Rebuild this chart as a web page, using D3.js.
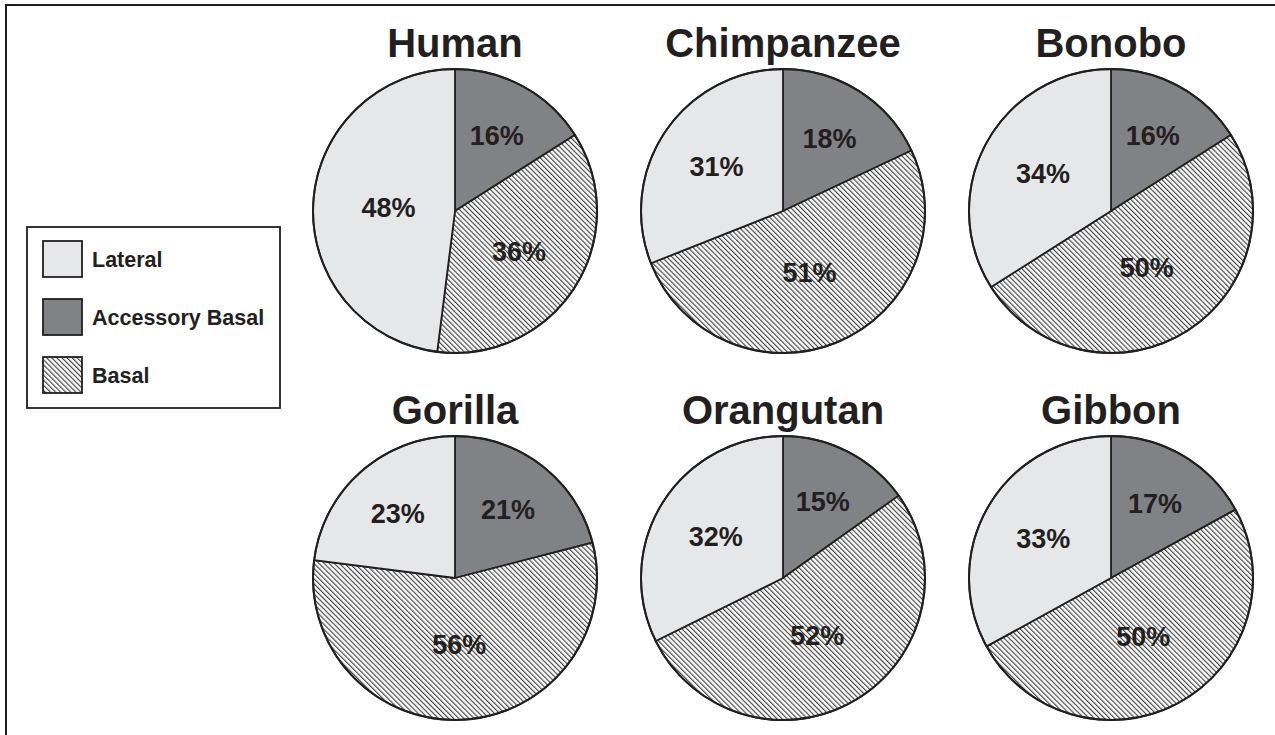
<!DOCTYPE html>
<html>
<head>
<meta charset="utf-8">
<script src="https://cdn.jsdelivr.net/npm/d3@7/dist/d3.min.js"></script>
<style>
  html, body { margin: 0; padding: 0; background: #fff; }
  svg { display: block; font-family: "Liberation Sans", Arial, Helvetica, sans-serif; }
</style>
</head>
<body>
<svg id="chart" width="1275" height="735"></svg>
<script>
// ---- data ----
const species = ["Human", "Chimpanzee", "Bonobo", "Gorilla", "Orangutan", "Gibbon"];
const categories = ["Lateral", "Accessory Basal", "Basal"];
const lateral = [48, 31, 34, 23, 32, 33];
const accessoryBasal = [16, 18, 16, 21, 15, 17];
const basal = [36, 51, 50, 56, 52, 50];

// ---- styling ----
const ink = "#231f20";
const fills = { "Lateral": "#e6e7e8", "Accessory Basal": "#808285", "Basal": "url(#hatch)" };

const svg = d3.select("#chart");
const W = 1275, H = 735;
svg.append("rect").attr("width", W).attr("height", H).attr("fill", "#fff");

// hatch pattern
const defs = svg.append("defs");
const pat = defs.append("pattern")
  .attr("id", "hatch").attr("patternUnits", "userSpaceOnUse")
  .attr("width", 3.6).attr("height", 3.6)
  .attr("patternTransform", "rotate(-45)");
pat.append("rect").attr("width", 3.6).attr("height", 3.6).attr("fill", "#fff");
pat.append("line").attr("x1", 0.6).attr("y1", 0).attr("x2", 0.6).attr("y2", 3.6)
  .attr("stroke", "#3a3a3a").attr("stroke-width", 1.1);

// outer frame (left and top visible, rest off canvas)
svg.append("rect").attr("x", 6).attr("y", 5).attr("width", 1400).attr("height", 900)
  .attr("fill", "none").attr("stroke", ink).attr("stroke-width", 2);

// layout scales
const xCol = d3.scaleLinear().domain([0, 2]).range([455, 1111]);
const yRow = d3.scaleLinear().domain([0, 1]).range([211, 578]);
const R = 142;

const pie = d3.pie().sort(null).value(d => d.value);
const arc = d3.arc().innerRadius(0).outerRadius(R);

species.forEach((name, i) => {
  const cx = xCol(i % 3), cy = yRow(Math.floor(i / 3));
  const g = svg.append("g").attr("transform", `translate(${cx},${cy})`);
  const slices = [
    { cat: "Accessory Basal", value: accessoryBasal[i] },
    { cat: "Basal", value: basal[i] },
    { cat: "Lateral", value: lateral[i] }
  ];
  const arcs = pie(slices);
  g.selectAll("path").data(arcs).join("path")
    .attr("d", arc)
    .attr("fill", d => fills[d.data.cat])
    .attr("stroke", ink).attr("stroke-width", 1.8).attr("stroke-linejoin", "round");
  g.append("circle").attr("r", R).attr("fill", "none").attr("stroke", ink).attr("stroke-width", 2);

  // labels near the area centroid of each sector, radius clamped
  g.selectAll("text.pct").data(arcs).join("text")
    .attr("class", "pct")
    .attr("transform", d => {
      const th = d.endAngle - d.startAngle;
      const mid = (d.startAngle + d.endAngle) / 2;
      let dist = 4 * R * Math.sin(th / 2) / (3 * th);
      dist = Math.max(0.47 * R, Math.min(0.61 * R, dist));
      return `translate(${dist * Math.sin(mid)},${-dist * Math.cos(mid)})`;
    })
    .attr("text-anchor", "middle").attr("dy", "0.36em")
    .attr("font-size", 27).attr("font-weight", "bold").attr("fill", ink)
    .text(d => d.data.value + "%");

  g.append("text")
    .attr("x", 0).attr("y", -R - 12)
    .attr("text-anchor", "middle")
    .attr("font-size", 40).attr("font-weight", "bold").attr("fill", ink)
    .text(name);
});

// legend
const lg = svg.append("g").attr("transform", "translate(27,227)");
lg.append("rect").attr("width", 253).attr("height", 181)
  .attr("fill", "#fff").attr("stroke", ink).attr("stroke-width", 1.8);
const yLeg = d3.scalePoint().domain(categories).range([32, 148]);
categories.forEach(c => {
  lg.append("rect").attr("x", 16).attr("y", yLeg(c) - 18).attr("width", 39).attr("height", 36)
    .attr("fill", fills[c]).attr("stroke", ink).attr("stroke-width", 1.8);
  lg.append("text").attr("x", 65).attr("y", yLeg(c)).attr("dy", "0.36em")
    .attr("font-size", 21.5).attr("font-weight", "bold").attr("fill", ink)
    .text(c);
});
</script>
</body>
</html>
